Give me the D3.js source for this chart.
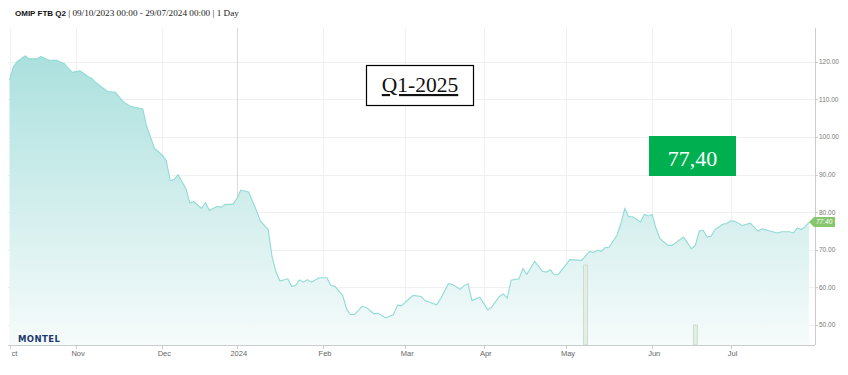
<!DOCTYPE html>
<html>
<head>
<meta charset="utf-8">
<script src="https://cdn.jsdelivr.net/npm/d3@7"></script>
<style>
  body { margin: 0; background: #fff; }
  svg { display: block; }
  .tickLabel { font-family: 'Liberation Sans', Arial, sans-serif; font-size: 7.5px; fill: #666; }
  .yLabel { font-family: 'Liberation Sans', Arial, sans-serif; font-size: 6.5px; fill: #777; }
</style>
</head>
<body>
<div id="chart"></div>
<script>
// trading days of the series (weekends and these exchange holidays are left out)
const holidays = ['2023-12-25', '2023-12-26', '2024-01-01', '2024-03-29', '2024-04-01', '2024-05-01'];

const dates = [
  '2023-10-09','2023-10-10','2023-10-11','2023-10-13','2023-10-16','2023-10-18','2023-10-19','2023-10-23','2023-10-25','2023-10-27','2023-10-30','2023-10-31',
  '2023-11-02','2023-11-06','2023-11-07','2023-11-08','2023-11-13','2023-11-15','2023-11-17','2023-11-21','2023-11-24','2023-11-27','2023-11-29',
  '2023-12-01','2023-12-04','2023-12-05','2023-12-06','2023-12-07','2023-12-11','2023-12-12','2023-12-13','2023-12-15','2023-12-18','2023-12-19','2023-12-21','2023-12-22','2023-12-27','2023-12-29',
  '2024-01-02','2024-01-03','2024-01-05','2024-01-09','2024-01-10','2024-01-12','2024-01-15','2024-01-16','2024-01-17','2024-01-19','2024-01-22','2024-01-23','2024-01-24','2024-01-25','2024-01-26','2024-01-29','2024-01-31',
  '2024-02-02','2024-02-05','2024-02-06','2024-02-08','2024-02-09','2024-02-12','2024-02-13','2024-02-15','2024-02-16','2024-02-20','2024-02-21','2024-02-23','2024-02-27','2024-02-28','2024-02-29',
  '2024-03-04','2024-03-05','2024-03-07','2024-03-08','2024-03-13','2024-03-14','2024-03-18','2024-03-19','2024-03-21','2024-03-22','2024-03-25','2024-03-26','2024-03-28',
  '2024-04-03','2024-04-04','2024-04-08','2024-04-09','2024-04-10','2024-04-11','2024-04-15','2024-04-16','2024-04-17','2024-04-19','2024-04-23','2024-04-24','2024-04-25','2024-04-26','2024-04-29',
  '2024-05-03','2024-05-08','2024-05-10','2024-05-13','2024-05-14','2024-05-15','2024-05-16','2024-05-17','2024-05-21','2024-05-22','2024-05-23','2024-05-24','2024-05-27','2024-05-29','2024-05-30','2024-05-31',
  '2024-06-03','2024-06-04','2024-06-05','2024-06-07','2024-06-10','2024-06-13','2024-06-17','2024-06-18','2024-06-19','2024-06-20','2024-06-21','2024-06-24','2024-06-25','2024-06-27','2024-06-28',
  '2024-07-01','2024-07-02','2024-07-04','2024-07-08','2024-07-10','2024-07-11','2024-07-15','2024-07-17','2024-07-18','2024-07-22','2024-07-23','2024-07-24','2024-07-25','2024-07-26','2024-07-29'
];

const prices = [
  115.2, 118.7, 120.1, 121.6, 120.8, 120.8, 121.4, 120.5, 120.4, 119.5, 118.3, 117.2,
  117.6, 116.1, 115.6, 114.5, 112.1, 111.9, 109.4, 108.1, 107.5, 102.8, 97.0,
  95.2, 93.7, 88.4, 88.7, 90.0, 86.3, 82.5, 82.8, 81.0, 82.6, 80.5, 81.6, 81.3, 82.1, 82.1,
  83.6, 85.9, 85.4, 80.5, 77.7, 75.4, 68.1, 64.1, 61.7, 62.3, 60.3, 60.5, 62.0, 61.4, 62.1, 61.4, 62.6,
  62.6, 60.5, 60.3, 57.9, 54.3, 52.8, 52.8, 55.0, 54.7, 53.0, 53.2, 51.9, 52.8, 55.3, 55.1,
  57.0, 57.9, 57.6, 56.5, 55.4, 57.0, 61.0, 60.8, 59.5, 60.5, 61.0, 56.5, 57.4,
  54.1, 54.7, 57.6, 58.3, 57.2, 61.9, 62.3, 65.0, 63.5, 66.9, 64.3, 64.1, 64.7, 63.4, 63.4,
  67.4, 67.2, 69.6, 69.3, 69.9, 69.6, 70.6, 70.7, 73.9, 77.0, 81.0, 78.8, 78.8, 77.4, 79.4, 79.0,
  79.4, 75.6, 73.0, 71.2, 71.2, 73.4, 70.3, 71.2, 75.0, 75.2, 73.4, 73.6, 75.4, 76.8, 77.0,
  77.7, 77.6, 76.5, 77.1, 75.0, 75.6, 75.0, 74.5, 74.8, 74.8, 74.5, 75.8, 75.4, 76.1, 77.4
];

const volumeDates = ['2024-05-09', '2024-06-18'];
const volumes = [40, 10];

const yTicks = [50, 60, 70, 80, 90, 100, 110, 120];
const lastLabel = '77.40';
const contractLabel = 'Q1-2025';
const priceLabel = '77,40';

const width = 848, height = 375;
const plotLeft = 9.5, plotRight = 815, plotTop = 28, plotBottom = 345;

const fmt = d3.utcFormat('%Y-%m-%d');
const parse = d3.utcParse('%Y-%m-%d');

// ordinal (trading-day) calendar
const calendar = d3.utcDay.range(parse(dates[0]), d3.utcDay.offset(parse(dates[dates.length - 1]), 1))
  .filter(d => d.getUTCDay() !== 0 && d.getUTCDay() !== 6 && !holidays.includes(fmt(d)))
  .map(fmt);
const dayIndex = new Map(calendar.map((d, i) => [d, i]));

const x = d3.scaleLinear().domain([0, calendar.length - 1]).range([plotLeft, 809]);
const y = d3.scaleLinear().domain([44.7, 129]).range([plotBottom, plotTop]);
const yVol = d3.scaleLinear().domain([0, 50]).range([plotBottom, plotBottom - 100]);

const series = dates.map((d, i) => ({ i: dayIndex.get(d), v: prices[i] }));

const svg = d3.select('#chart').append('svg')
  .attr('width', width)
  .attr('height', height);

const defs = svg.append('defs');
const grad = defs.append('linearGradient')
  .attr('id', 'areaGrad')
  .attr('gradientUnits', 'userSpaceOnUse')
  .attr('x1', 0).attr('x2', 0)
  .attr('y1', plotTop).attr('y2', plotBottom);
grad.append('stop').attr('offset', 0).attr('stop-color', '#a4dedb');
grad.append('stop').attr('offset', 1).attr('stop-color', '#f6fbfb');

defs.append('clipPath').attr('id', 'labelClip')
  .append('rect').attr('x', 12).attr('y', plotBottom).attr('width', width).attr('height', 30);

// title
const title = svg.append('text')
  .attr('x', 15)
  .attr('y', 16)
  .style('font-size', '8px');
title.append('tspan')
  .style('font-family', "'Liberation Sans', Arial, sans-serif")
  .style('font-weight', 'bold')
  .attr('fill', '#111')
  .text('OMIP FTB Q2');
title.append('tspan')
  .style('font-family', "'Liberation Serif', Georgia, serif")
  .style('font-size', '9.2px')
  .attr('fill', '#222')
  .text(' | 09/10/2023 00:00 - 29/07/2024 00:00 | 1 Day');

// month ticks at first trading day of each month
const monthTicks = [];
calendar.forEach((d, i) => {
  const m = d.slice(0, 7);
  if (i === 0 || calendar[i - 1].slice(0, 7) !== m) monthTicks.push(i);
});
const monthFmt = (i) => {
  const d = parse(calendar[i]);
  return d.getUTCMonth() === 0 ? d3.utcFormat('%Y')(d) : d3.utcFormat('%b')(d);
};

// grid
svg.append('g').selectAll('line.hgrid')
  .data(yTicks)
  .enter().append('line')
  .attr('class', 'hgrid')
  .attr('x1', 8).attr('x2', plotRight)
  .attr('y1', d => Math.round(y(d)) + 0.5)
  .attr('y2', d => Math.round(y(d)) + 0.5)
  .attr('stroke', '#f0f0f0');

svg.append('g').selectAll('line.vgrid')
  .data(monthTicks)
  .enter().append('line')
  .attr('class', 'vgrid')
  .attr('x1', d => Math.round(x(d)) + 0.5)
  .attr('x2', d => Math.round(x(d)) + 0.5)
  .attr('y1', plotTop).attr('y2', plotBottom)
  .attr('stroke', d => parse(calendar[d]).getUTCMonth() === 0 ? '#dadada' : '#f0f0f0');

// area + line
svg.append('path')
  .datum(series)
  .attr('fill', 'url(#areaGrad)')
  .attr('d', d3.area().x(d => x(d.i)).y0(plotBottom).y1(d => y(d.v)));

svg.append('path')
  .datum(series)
  .attr('fill', 'none')
  .attr('stroke', '#8fdbd5')
  .attr('stroke-width', 1.1)
  .attr('d', d3.line().x(d => x(d.i)).y(d => y(d.v)));

// volume bars
svg.append('g').selectAll('rect')
  .data(volumeDates.map((d, i) => ({ i: dayIndex.get(d), v: volumes[i] })))
  .enter().append('rect')
  .attr('x', d => x(d.i) - 2)
  .attr('y', d => yVol(d.v))
  .attr('width', 4)
  .attr('height', d => plotBottom - yVol(d.v))
  .attr('fill', '#e4eee4')
  .attr('stroke', '#c6d8c6')
  .attr('stroke-width', 0.8);

// axes lines
svg.append('line')
  .attr('x1', 8).attr('x2', plotRight)
  .attr('y1', plotBottom + 0.5).attr('y2', plotBottom + 0.5)
  .attr('stroke', '#ccc');
svg.append('line')
  .attr('x1', plotRight + 0.5).attr('x2', plotRight + 0.5)
  .attr('y1', plotTop).attr('y2', plotBottom)
  .attr('stroke', '#ccc');

// x ticks + labels
const xAxis = svg.append('g');
xAxis.selectAll('line')
  .data(monthTicks)
  .enter().append('line')
  .attr('x1', d => Math.round(x(d)) + 0.5)
  .attr('x2', d => Math.round(x(d)) + 0.5)
  .attr('y1', plotBottom).attr('y2', plotBottom + 4)
  .attr('stroke', '#ccc');
xAxis.append('g').attr('clip-path', 'url(#labelClip)')
  .selectAll('text')
  .data(monthTicks)
  .enter().append('text')
  .attr('class', 'tickLabel')
  .attr('x', d => x(d) + 2)
  .attr('y', 356)
  .attr('text-anchor', 'middle')
  .text(monthFmt);

// y ticks + labels
const yAxis = svg.append('g');
yAxis.selectAll('line')
  .data(yTicks)
  .enter().append('line')
  .attr('x1', plotRight).attr('x2', plotRight + 3)
  .attr('y1', d => Math.round(y(d)) + 0.5)
  .attr('y2', d => Math.round(y(d)) + 0.5)
  .attr('stroke', '#ccc');
yAxis.selectAll('text')
  .data(yTicks)
  .enter().append('text')
  .attr('class', 'yLabel')
  .attr('x', plotRight + 4)
  .attr('y', d => y(d) + 2.3)
  .text(d => d3.format('.2f')(d));

// last value tag
const last = series[series.length - 1];
const ly = y(last.v);
svg.append('path')
  .attr('d', `M${plotRight - 6},${ly} L${plotRight - 1},${ly - 5} H${plotRight + 20} V${ly + 5} H${plotRight - 1} Z`)
  .attr('fill', '#86c66c');
svg.append('text')
  .attr('x', plotRight + 1)
  .attr('y', ly + 2.3)
  .attr('fill', '#fff')
  .style('font-family', "'Liberation Sans', Arial, sans-serif")
  .style('font-size', '6.5px')
  .style('font-style', 'italic')
  .text(lastLabel);

// montel logo text
svg.append('text')
  .attr('x', 18)
  .attr('y', 342)
  .attr('fill', '#1d3b6c')
  .style('font-family', "'DejaVu Sans', sans-serif")
  .style('font-weight', 'bold')
  .style('font-size', '8.5px')
  .style('letter-spacing', '0.4px')
  .text('MONTEL');

// annotation boxes
const qBox = svg.append('g');
qBox.append('rect')
  .attr('x', 366.5).attr('y', 65.5)
  .attr('width', 107).attr('height', 40)
  .attr('fill', '#fff')
  .attr('stroke', '#000')
  .attr('stroke-width', 1.2);
qBox.append('text')
  .attr('x', 420)
  .attr('y', 92)
  .attr('text-anchor', 'middle')
  .attr('fill', '#111')
  .style('font-family', "'Liberation Serif', 'Times New Roman', serif")
  .style('font-size', '21.5px')
  .style('text-decoration', 'underline')
  .text(contractLabel);

const pBox = svg.append('g');
pBox.append('rect')
  .attr('x', 649).attr('y', 136)
  .attr('width', 87).attr('height', 40)
  .attr('fill', '#00b050');
pBox.append('text')
  .attr('x', 692.5)
  .attr('y', 166)
  .attr('text-anchor', 'middle')
  .attr('fill', '#fff')
  .style('font-family', "'Liberation Serif', 'Times New Roman', serif")
  .style('font-size', '22px')
  .text(priceLabel);
</script>
</body>
</html>
